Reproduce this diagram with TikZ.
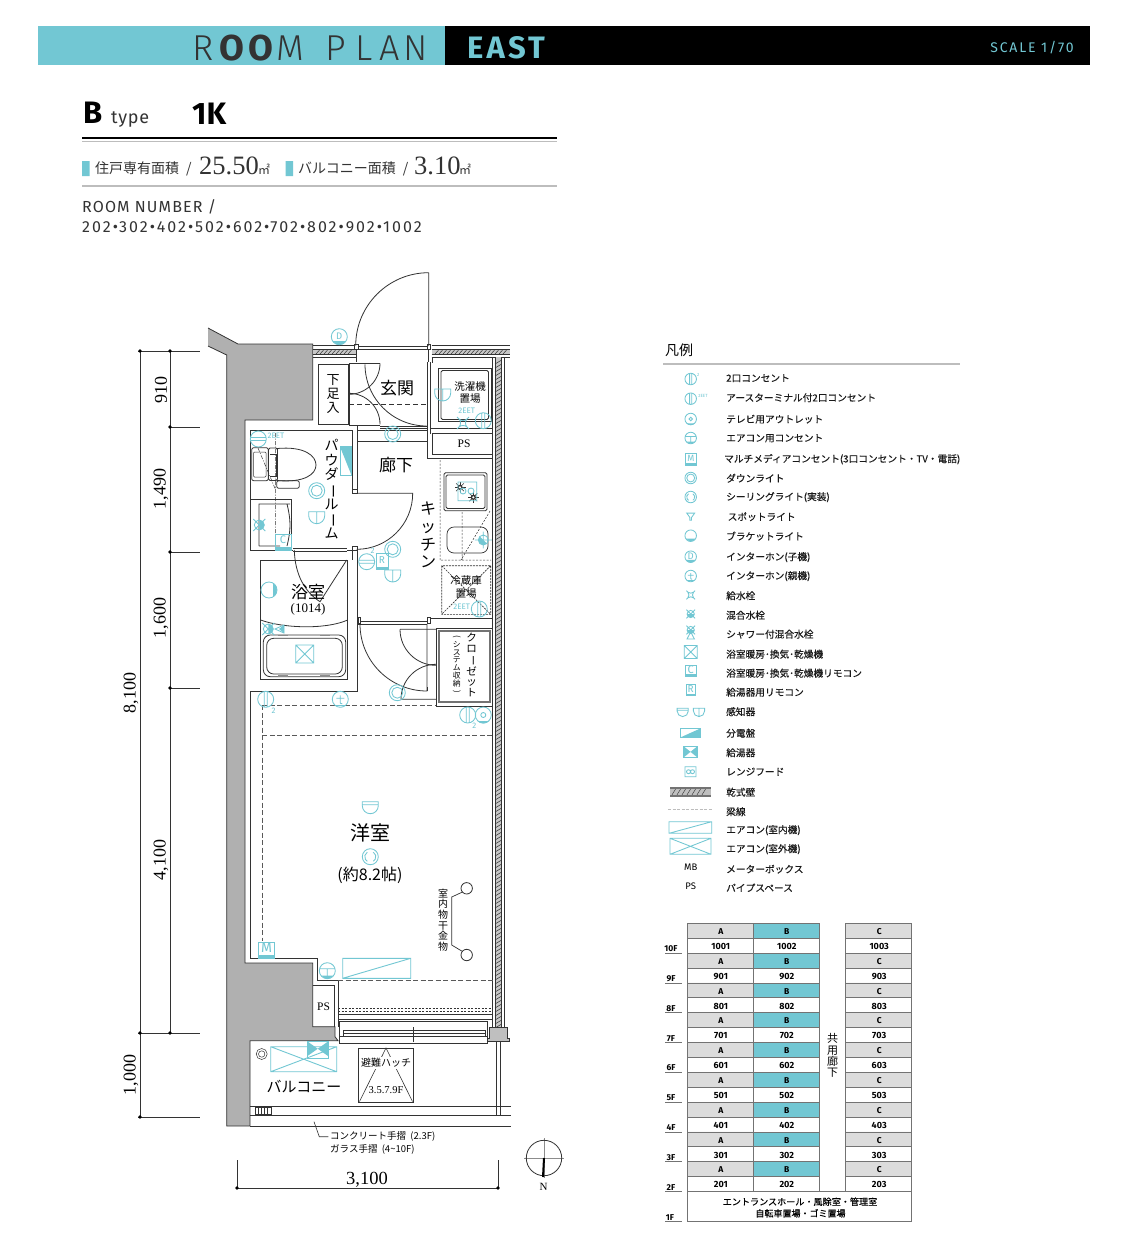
\documentclass[tikz,border=0pt]{standalone}
\usepackage{fontspec}
\usepackage{graphicx}
\setmainfont{Liberation Serif}
\newfontfamily\jp{Noto Sans CJK JP}
\newfontfamily\jpb{Noto Sans CJK JP}[FakeBold=0.25]
\newfontfamily\din{Fira Sans}
\newfontfamily\dinl{Fira Sans Light}
\definecolor{symc}{HTML}{72C7D3}
\definecolor{wallg}{HTML}{B0B0B0}
\definecolor{lineg}{HTML}{BDBDBD}
\definecolor{cellg}{HTML}{DCDCDC}
\definecolor{ink}{HTML}{333333}
\newcommand{\vb}{\rotatebox[origin=c]{-90}{ー}}
\newcommand{\jps}[1]{\jp\fontsize{#1}{#1}\selectfont}
\newcommand{\jpl}[2]{\jp\fontsize{#1}{#2}\selectfont}
\tikzset{
  sym/.style={draw=symc,line width=0.85pt},
  wl/.style={draw=ink,line width=0.8pt},
  beam/.style={draw=black!65,line width=0.7pt,dash pattern=on 5pt off 2.5pt},
  outlet/.pic={\draw[sym] (0,0) circle (8) (-1.5,-8)--(-1.5,8) (1.5,-8)--(1.5,8);},
  tvout/.pic={\draw[sym] (0,0) circle (8) (0,0) circle (2.5);\fill[symc] (-6,6) arc (135:45:8.5) -- cycle;},
  acout/.pic={\draw[sym] (0,0) circle (8) (-8,-2)--(8,-2) (0,-2)--(0,6);\fill[symc] (-6,5) -- (6,5) arc (40:140:7.8) -- cycle;},
  dlight/.pic={\draw[sym] (0,0) circle (8) (0,0) circle (5.5);},
  clight/.pic={\draw[sym] (0,0) circle (8) (-3,-4.5) arc (240:120:5.2) (3,-4.5) arc (-60:60:5.2);},
  spot/.pic={\draw[sym] (-5.5,-5)--(5.5,-5)--(1.2,1)--(1.2,5)--(-1.2,5)--(-1.2,1)--cycle;},
  bracket/.pic={\draw[sym] (0,0) circle (8);\fill[symc] (-6.8,4) arc (150:30:7.8) -- cycle;},
  intd/.pic={\draw[sym] (0,0) circle (8);\fill[symc] (-6.8,4.5) arc (146:34:8.2) -- cycle;
    \node[text=symc,font=\din\fontsize{9.5}{9.5}\selectfont,inner sep=0] (lb) at (0,-0.5) {D};},
  intt/.pic={\draw[sym] (0,0) circle (8) (-4,-1)--(4,-1) (0,-4)--(0,4) (0,4)--(2,4.5);\draw[symc,line width=1pt] (-5,6.6)--(5,6.6);},
  tapv/.pic={\draw[sym] (-4,-4) .. controls (-2,-2) and (2,-2) .. (4,-4) .. controls (2,-2) and (2,2) .. (4,4) .. controls (2,2) and (-2,2) .. (-4,4) .. controls (-2,2) and (-2,-2) .. (-4,-4) (-4,-4)--(-6,-6) (4,-4)--(6,-6) (4,4)--(6,6) (-4,4)--(-6,6);},
  mixer/.pic={\draw[sym] (-6,-6)--(6,6) (6,-6)--(-6,6) (0,0) circle (5);\fill[symc] (-5,0) arc (180:0:5) -- cycle;},
  bfan/.pic={\draw[sym] (-9,-9) rectangle (9,9) (-9,-9)--(9,9) (-9,9)--(9,-9);},
  remc/.pic={\draw[sym] (-8,-8) rectangle (8,8);\fill[symc] (-8,4.5) rectangle (8,8);
    \node[text=symc,font=\din\fontsize{11}{11}\selectfont,inner sep=0] (lb) at (0,-2) {C};},
  remr/.pic={\draw[sym] (-6,-8) rectangle (6,8);\fill[symc] (-6,5) rectangle (6,8);
    \node[text=symc,font=\din\fontsize{10}{10}\selectfont,inner sep=0] (lb) at (0,-1.5) {R};},
  senst/.pic={\draw[sym] (-8,-5) -- (8,-5) -- (8,-1) arc (0:180:8) -- cycle (-8,-2)--(8,-2);},
  sensl/.pic={\draw[sym] (-8,-5) -- (8,-5) -- (8,-1) arc (0:180:8) -- cycle (0,-5)--(0,7);},
  burner/.pic={\fill[ink] (0,0) circle (2.6);\foreach \a in {0,45,...,315} \draw[ink,line width=0.6pt] (0,0)--(\a:5.5);\fill[white] (0,0) circle (1.2);},
}
\begin{document}
\begin{tikzpicture}[x=1pt,y=-1pt,line cap=butt]
\useasboundingbox (0,0) rectangle (1120,1240);
\fill[white] (0,0) rectangle (1120,1240);
% header
\fill[symc] (38,25.5) rectangle (445,65);
\fill[black] (445,25.5) rectangle (1090,65);
\foreach \nm/\x/\t in {a/203.5/R,d/290/M,e/335.5/P,f/364/L,g/389.5/A,h/416/N}
  \node[anchor=base,inner sep=0,text=ink,font=\dinl\fontsize{36}{36}\selectfont] (ttl\nm) at (\x,60.9) {\t};
\foreach \nm/\x/\t in {b/231.5/O,c/260.5/O}
  \node[anchor=base,inner sep=0,text=ink,font=\din\bfseries\fontsize{36}{36}\selectfont] (ttl\nm) at (\x,60.9) {\t};
\node[anchor=west,inner sep=0,text=symc,font=\din\bfseries\fontsize{31}{31}\selectfont\addfontfeature{LetterSpace=10}] (east) at (467,47.5) {EAST};
\node[anchor=east,inner sep=0,text=symc,font=\din\fontsize{14}{14}\selectfont\addfontfeature{LetterSpace=13}] (scl) at (1074,47.5) {SCALE 1/70};
\node[anchor=base west,inner sep=0,font=\din\bfseries\fontsize{31}{31}\selectfont] (tb) at (83,123) {B};
\node[anchor=base west,inner sep=0,text=ink,font=\din\fontsize{18}{18}\selectfont\addfontfeature{LetterSpace=4}] (tt) at (111,123) {type};
\node[anchor=base west,inner sep=0,font=\din\bfseries\fontsize{31}{31}\selectfont] (tk) at (192,124) {1K};
\draw[black,line width=2pt] (82,137.5)--(557,137.5);
\draw[lineg,line width=1.6pt] (82,141.5)--(557,141.5);
\draw[lineg,line width=1.6pt] (82,186)--(557,186);
\fill[symc] (82,161) rectangle (89.5,176) (285.5,161) rectangle (293,176);
\node[anchor=west,inner sep=0,text=ink,font=\jps{14}] (ar1) at (95,168.5) {住戸専有面積\hspace{7pt}/};
\node[anchor=base west,inner sep=0,text=ink,font=\fontsize{26.5}{26.5}\selectfont] (ar2) at (199,174) {25.50};
\node[anchor=base west,inner sep=0,text=ink,font=\jps{12}] (ar3) at (258,174) {㎡};
\node[anchor=west,inner sep=0,text=ink,font=\jps{14}] (ar4) at (298,168.5) {バルコニー面積\hspace{7pt}/};
\node[anchor=base west,inner sep=0,text=ink,font=\fontsize{26.5}{26.5}\selectfont] (ar5) at (414,174) {3.10};
\node[anchor=base west,inner sep=0,text=ink,font=\jps{12}] (ar6) at (459,174) {㎡};
\node[anchor=west,inner sep=0,text=ink,font=\din\fontsize{16}{16}\selectfont\addfontfeature{LetterSpace=7}] (rn1) at (82,207) {ROOM NUMBER /};
\node[anchor=west,inner sep=0,text=ink,font=\din\fontsize{16}{16}\selectfont\addfontfeature{LetterSpace=12.5}] (rn2) at (82,227) {202•302•402•502•602•702•802•902•1002};
% concrete
\draw[fill=wallg,draw=ink,line width=0.8pt] (208,328)--(238,344)--(312.7,344)--(312.7,420)--(245,420)--(245,963)--(312.7,963)--(312.7,1026.7)--(335,1026.7)--(335,1036.7)--(338,1040.7)--(250,1040.7)--(250,1126)--(226.7,1126)--(226.7,355)--(208,346);
% top wall
\foreach \a/\b in {312.7/356,431.7/510}{
  \fill[black!22] (\a,349.5) rectangle (\b,354);
  \draw[wl] (\a,345.8)--(\b,345.8) (\a,349.5)--(\b,349.5) (\a,354)--(\b,354) (\a,357)--(\b,357);
}
\foreach \x in {316,320,...,351} \draw[ink,line width=0.5pt] (\x,354)--(\x+4,349.5);
\foreach \x in {435,439,...,505} \draw[ink,line width=0.5pt] (\x,354)--(\x+4,349.5);
% right wall
\fill[black!22] (495,357) rectangle (501.7,1027);
\draw[wl] (492.7,357)--(492.7,1027) (495,357)--(495,1027) (501.7,357)--(501.7,1027) (504,357)--(504,1027);
\foreach \y in {360,364,...,1024} \draw[ink,line width=0.5pt] (495,\y+4)--(501.7,\y);
% inner walls
\draw[wl] (356,346)--(356,362) (428.7,346)--(428.7,362) (432,357)--(432,363);
\draw[wl,fill=white] (354.5,344.5) rectangle (358,349) (427,344.5) rectangle (430.5,349);
\draw[wl] (358,346)--(427,346) (358,349.5)--(427,349.5);
\draw[wl,fill=white] (318,364) rectangle (348,424);
\draw[wl] (349,363.3)--(380,363.3) (349,425)--(380,425) (349,363.3)--(349,425) (357.5,425)--(357.5,491) (352.7,430.7)--(352.7,491);
\draw[wl] (349,363.3)--(356,363.3);
\draw[wl] (380,426)--(427,426) (380,428.5)--(427,428.5) (357.5,430)--(427,430) (357.5,441)--(427,441);
\draw[wl] (427,362)--(427,458.8)--(492,458.8) (430,362)--(430,433.5);
\draw[wl] (430,428)--(492.7,428);
\draw[wl] (432.3,433.3) rectangle (492.7,454.3);
\draw[wl] (438.3,368) rectangle (491,421.7);
\draw[wl,rounded corners=1.5pt] (441,370.5) rectangle (488.5,419.5);
\draw[wl] (349,404)--(426,404) [dash pattern=on 5pt off 3pt];
\draw[wl] (250,430.7)--(352.7,430.7) (250,430.7)--(250,550.7)--(293,550.7) (347,550.7)--(352.7,550.7) (357.5,548)--(357.5,691.7) (352.7,548)--(352.7,560);
\draw[wl] (293,548)--(347,548) (293,551.5)--(347,551.5);
\draw[wl,fill=white] (352,489.5) rectangle (357,493.3) (352,546) rectangle (357,550);
\draw[wl] (250,691)--(357.5,691) (250,691)--(250,958)--(317,958)--(317,980)--(338,980);
\draw[wl] (338,980)--(338,1020);
\draw[wl] (312.7,985)--(334,985)--(334,1026.7);
% door arcs
\draw[wl] (428.7,272.7)--(428.7,346) (428.7,272.7) arc (270:180:73);
\draw[wl] (380,363.3) arc (0:90:31);
\draw[wl] (349,393.3) arc (270:360:31);
\draw[wl] (365,364.3) arc (180:90:61.7);
\draw[wl] (356.7,493.3)--(412.7,493.3) arc (0:90:56);
\draw[wl] (360,624) arc (180:90:67)--(427,624);
\draw[wl] (358,621)--(427,621) (358,624)--(427,624);
\draw[wl,fill=white] (358,617) rectangle (360.5,623) (427.5,617) rectangle (430,623);
\draw[wl] (430,618.3)--(492.7,618.3);
\draw[wl] (427,687)--(427,691);
\draw[wl] (400,629.3)--(436,629.3) (400,629.3) arc (180:90:36);
\draw[wl] (436,664.3) arc (270:180:35) -- (436,699.3);
% closet
\draw[wl,fill=white] (436,628.3) rectangle (492.7,706);
\draw[black!55,line width=1.8pt] (439,631) rectangle (490,702);
% kitchen
\draw[wl,rounded corners=1.5pt] (444,472.7) rectangle (487,510.7);
\draw[wl,rounded corners=1.5pt] (446,475) rectangle (485,508.5);
\draw[ink,line width=0.5pt,dash pattern=on 2pt off 1.5pt] (440,460)--(440,560) (441,560)--(491,560) (462,512)--(462,560) (490,511)--(461,560);
\draw[ink,line width=0.7pt,rounded corners=7pt] (447,527) rectangle (488,553);
\draw[wl] (260.7,560)--(260.7,679)--(347.7,679)--(347.7,560)--cycle;
\draw[ink,line width=0.6pt,dash pattern=on 2pt off 1pt] (441.7,565.7) rectangle (490.7,614.3) (441.7,565.7)--(490.7,614.3) (490.7,565.7)--(441.7,614.3);
% toilet
\draw[wl,rounded corners=2pt] (251.7,447.7) rectangle (268.3,480.7);
\draw[ink,line width=0.5pt,rounded corners=1pt] (253.5,452) rectangle (266,477);
\draw[wl,rounded corners=1.5pt] (268.5,448) rectangle (277.5,480.5);
\draw[wl] (277,448.5) .. controls (305,446) and (316,456) .. (316,465) .. controls (316,474) and (305,483) .. (277,480.5);
\draw[wl] (270,454)--(276,454)--(276,476)--(270,476);
\draw[wl,rounded corners=2pt] (276.7,480.7) rectangle (299.3,488.3);
\draw[ink,line width=0.5pt,dash pattern=on 4pt off 1.5pt on 1pt off 1.5pt] (275.7,433)--(275.7,550) (258,448)--(275.7,490);
% vanity
\draw[wl] (250,499.3)--(291.7,499.3)--(291.7,550);
\draw[wl] (259,546)--(259,504)--(290,504) (280,546)--(259,546) (287,504) .. controls (291,520) and (291,530) .. (287,546);
% bath
\draw[wl] (294.3,550) .. controls (295,575) and (305,592) .. (320,601.7)--(346.7,560);
\draw[wl] (260.7,620) .. controls (282,628) and (325,630) .. (347.7,620);
\draw[wl,rounded corners=7pt] (263.3,635) rectangle (345.7,676.7);
\draw[wl,rounded corners=7pt] (266.7,638.3) rectangle (342.3,674);
\draw[black!45,line width=1.5pt] (278,635.5)--(288,635.5) (320,635.5)--(330,635.5) (278,676)--(288,676) (320,676)--(330,676);
% beam lines
\draw[beam] (262.3,705)--(262.3,941) (262.3,705)--(436,705) (262.3,735)--(492.7,735) (338,980)--(492.7,980);
% sash
\draw[wl] (338,1020)--(338,1027) ;
\draw[ink,line width=0.5pt,dash pattern=on 2pt off 1.5pt] (338,1008)--(492,1008) (338,1011)--(492,1011);
\draw[wl] (338,1014.5)--(492,1014.5) (338,1019)--(492,1019);
\draw[wl] (339,1021)--(487,1021) (343,1030)--(485,1030) (343,1033)--(485,1033);
\draw[wl,fill=white] (339,1036.5) rectangle (487,1043);
\draw[wl] (339,1021)--(339,1036.5) (487,1021)--(487,1036.5) (343,1030)--(343,1036) (485,1030)--(485,1036);
\draw[wl] (413,1027)--(413,1042);
\draw[wl,fill=black!25] (489,1027)--(507,1027)--(507,1038)--(509,1038)--(509,1041)--(487,1041)--(487,1038)--(489,1038)--cycle;
% balcony
\draw[wl] (250,1106)--(511,1106) (250,1115)--(511,1115) (250,1126)--(511,1126);
\draw[wl] (496,1041)--(496,1115) (500.5,1041)--(500.5,1115);
\draw[wl] (255,1107) rectangle (271,1114.5);
\foreach \x in {258,261,264,267} \draw[ink,line width=0.5pt] (\x,1107)--(\x,1114.5);
\draw[ink,line width=0.5pt] (261.7,1054) circle (5.5) (261.7,1054) circle (3.2);
\draw[ink,line width=0.6pt,fill=white] (358,1048) rectangle (413,1102);
\draw[ink,line width=0.6pt] (359.5,1101.5)--(386,1048)--(412.5,1101.5);
\draw[ink,line width=0.6pt] (314,1121.7)--(319.3,1136.7)--(328.3,1136.7);
% symbols in plan
\pic at (339.3,336.7) {intd};
\pic at (442.7,394) {sensl};
\pic at (463,423) {tapv};
\pic at (483.3,420.7) {outlet};
\pic at (392.7,434) {dlight};
\pic[rotate=90] at (258.3,439) {outlet};
\pic at (316.7,490.7) {dlight};
\pic at (316.7,516.7) {sensl};
\pic[rotate=90] at (259.3,525) {mixer};
\pic at (283,542) {remc};
\pic[rotate=90] at (366.7,561.7) {outlet};
\pic at (382,561.5) {remr};
\pic at (392.7,549.3) {dlight};
\pic at (392.7,575) {sensl};
\pic[rotate=90] at (269,590) {bracket};
\pic[rotate=90] at (268.3,629) {mixer};
\pic at (304.7,654) {bfan};
\pic at (265.7,699.3) {outlet};
\pic at (340.3,699.3) {intt};
\pic at (397.3,692.7) {dlight};
\pic at (467.7,715) {outlet};
\pic at (483.3,715) {tvout};
\pic at (370.3,806.7) {senst};
\pic at (370.3,856.7) {clight};
\pic at (327.3,970.7) {acout};
\pic at (479.3,609) {outlet};
\pic[rotate=-45] at (483.3,540) {mixer};
\pic at (460,487.3) {burner};
\pic at (473.3,497.3) {burner};
\draw[sym] (458,482) rectangle (476.7,500.7) (463,491) circle (3) (471,491) circle (3);
\fill[symc] (279,629) -- (284,625) -- (284,633) -- cycle;
\draw[sym] (275,629) -- (284,625) -- (284,633) -- cycle;
\draw[sym] (340,446.7) rectangle (351.7,475.7);
\fill[symc] (340,446.7)--(351.7,446.7)--(351.7,475.7)--cycle;
\draw[sym] (258.3,942.3) rectangle (274.7,958.3);
\fill[symc] (258.3,955) rectangle (274.7,958.3);
\node[text=symc,inner sep=0,font=\din\fontsize{14}{14}\selectfont] (lbm) at (266.5,948) {M};
\draw[sym,line width=0.9pt] (342.7,958.3) rectangle (410.7,978.3) (342.7,978.3)--(410.7,958.3);
\draw[sym,line width=0.9pt] (270.7,1046.7) rectangle (336.7,1071.7) (270.7,1046.7)--(336.7,1071.7) (270.7,1071.7)--(336.7,1046.7);
\fill[symc] (307.5,1041.5)--(328,1056)--(328,1041.5)--(307.5,1056)--cycle;
\draw[sym] (307.5,1041.5) rectangle (328,1058);
% labels in plan
\foreach \nm/\x/\y/\s/\t in {a/466.7/410.7/8/2EET,b/276/435.7/8/2EET,c/372.5/551/8/2,d/273.7/710.7/8/2,e/474.3/726/8/2,f/461.7/606.7/8/2EET}
  \node[text=symc,inner sep=0,font=\din\fontsize{\s}{\s}\selectfont] (s\nm) at (\x,\y) {\t};
\node[inner sep=0,font=\jps{17}] (lbgen) at (397,388) {玄関};
\node[inner sep=0,font=\jps{17}] (lbrou) at (396,465.5) {廊下};
\node[inner sep=0,align=center,font=\jpl{13}{14}] (lbget) at (333,394) {下\\足\\入};
\node[inner sep=0,align=center,font=\jpl{10.5}{12}] (lbsen) at (470,393) {洗濯機\\置場};
\node[inner sep=0,font=\fontsize{11.5}{11.5}\selectfont] (lbps) at (464,444) {PS};
\node[inner sep=0,align=center,font=\jpl{14}{14.7}] (lbpow) at (331.7,489) {パ\\ウ\\ダ\\\vb\\ル\\\vb\\ム};
\node[inner sep=0,align=center,font=\jpl{16}{17.7}] (lbkit) at (428,535) {キ\\ッ\\チ\\ン};
\node[inner sep=0,font=\jps{17}] (lbyok) at (308,592) {浴室};
\node[inner sep=0,font=\fontsize{13}{13}\selectfont] (lbsz) at (308,609) {(1014)};
\node[inner sep=0,align=center,font=\jpl{10.5}{13}] (lbrei) at (466,586.7) {冷蔵庫\\置場};
\node[inner sep=0,align=center,font=\jpl{10.5}{10.5}] (lbcl) at (471.7,665) {ク\\ロ\\\vb\\ゼ\\ッ\\ト};
\node[inner sep=0,align=center,font=\jpl{7.8}{7.8}] (lbsys) at (456.7,665) {\rotatebox[origin=c]{-90}{(}\\シ\\ス\\テ\\ム\\収\\納\\\rotatebox[origin=c]{-90}{)}};
\node[inner sep=0,font=\jps{20}] (lbyo) at (370,833) {洋室};
\node[inner sep=0,font=\jps{16}] (lbjo) at (370,875.5) {(約8.2帖)};
\node[inner sep=0,align=center,font=\jpl{10}{10.7}] (lbmh) at (443,920) {室\\内\\物\\干\\金\\物};
\draw[ink,line width=0.8pt,fill=white] (466.7,888.3) circle (5.7) (466.7,955) circle (5.7);
\draw[ink,line width=0.7pt] (462.5,892)--(451.7,897)--(451.7,945)--(462.5,951.5);
\node[inner sep=0,font=\jps{15}] (lbbal) at (304,1087) {バルコニー};
\node[inner sep=1pt,fill=white,font=\jps{10}] (lbhat) at (386,1063) {避難ハッチ};
\node[inner sep=1pt,fill=white,font=\fontsize{10.5}{10.5}\selectfont] (lbhf) at (386,1090) {3.5.7.9F};
\node[inner sep=0,font=\fontsize{11.5}{11.5}\selectfont] (lbps2) at (323.5,1006.5) {PS};
\node[anchor=west,inner sep=0,font=\jps{9.5}] (nt1) at (330,1136.5) {コンクリート手摺\ \ (2.3F)};
\node[anchor=west,inner sep=0,font=\jps{9.5}] (nt2) at (330,1149) {ガラス手摺\ \ (4\textasciitilde 10F)};
% dimensions
\draw[ink,line width=0.6pt] (140,351)--(140,1117) (170,351)--(170,1033);
\draw[ink,line width=0.6pt] (138,351)--(200,351) (170,427)--(200,427) (170,552)--(200,552) (170,688)--(200,688) (138,1033)--(200,1033) (138,1117)--(200,1117);
\foreach \y in {351,427,552,688,1033} \fill[black] (170,\y) circle (1.8);
\foreach \y in {351,1033,1117} \fill[black] (140,\y) circle (1.8);
\foreach \nm/\x/\y/\t in {a/161/390/910,b/161/489/{1,490},c/161/618/{1,600},d/161/860/{4,100},e/131/693/{8,100},f/131/1075/{1,000}}
  \node[rotate=90,inner sep=0,font=\fontsize{18}{18}\selectfont] (dim\nm) at (\x,\y) {\t};
\draw[ink,line width=0.6pt] (237,1160)--(237,1188)--(498,1188)--(498,1160);
\fill[black] (237,1188) circle (1.8) (498,1188) circle (1.8);
\node[inner sep=0,font=\fontsize{18.5}{18.5}\selectfont] (dimw) at (367,1179.5) {3,100};
% north
\draw[black!45,line width=0.4pt] (524,1158)--(564,1158) (544,1138)--(544,1178);
\draw[ink,line width=0.8pt] (544,1158) circle (17.7);
\draw[black,line width=2pt] (544,1158)--(543,1177);
\node[inner sep=0,font=\fontsize{11}{11}\selectfont] (lbn) at (543.5,1186.5) {N};
% legend
\node[anchor=west,inner sep=0,font=\jps{14}] (lgt) at (665,350) {凡例};
\draw[lineg,line width=1.2pt] (663,364)--(960,364);
\foreach \x/\y/\t in {726/378/2口コンセント,726/397.5/アースターミナル付2口コンセント,726/419/テレビ用アウトレット,726/438/エアコン用コンセント,724/459/マルチメディアコンセント(3口コンセント・TV・電話),726/478/ダウンライト,726/497/シーリングライト(実装),727.5/516.5/スポットライト,726/536/ブラケットライト,726/557/インターホン(子機),726/576/インターホン(親機),726/595.5/給水栓,726/615/混合水栓,726/634/シャワー付混合水栓,726/654/浴室暖房･換気･乾燥機,726/673/浴室暖房･換気･乾燥機リモコン,726/692/給湯器用リモコン,726/711.5/感知器,726/733/分電盤,726/752.5/給湯器,726/771.5/レンジフード,726/792/乾式壁,726/811.5/梁線,726/830/エアコン(室内機),726/849/エアコン(室外機),726/869/メーターボックス,726/887.5/パイプスペース}
  \node[anchor=west,inner sep=0,yshift=-0.2pt,text=black!90,font=\jpb\fontsize{9.7}{9.7}\selectfont] (lg\y) at (\x,\y) {\t};
\foreach \s/\y/\k in {outlet/379/{},outlet/398.7/{},tvout/419/{},acout/438/{},dlight/478/{},clight/497/{},spot/516.7/{},bracket/535.7/{},intd/556.7/{},intt/576/{},tapv/595/{},mixer/614/{},bfan/652/{},remc/671/{},remr/690/{}}
  \pic[scale=0.72] at (690.7,\y) {\s};
\pic[scale=0.72] at (690.7,630) {mixer};
\draw[sym] (687,639) -- (690.7,632) -- (694.4,639) -- cycle;
\pic[scale=0.7] at (682.7,711.7) {senst};
\pic[scale=0.7] at (699,711.7) {sensl};
\draw[sym] (685,453.3) rectangle (696.7,465);
\fill[symc] (685,462.5) rectangle (696.7,465);
\node[text=symc,inner sep=0,font=\din\fontsize{9}{9}\selectfont] (lgm) at (690.8,458) {M};
\node[text=symc,inner sep=0,font=\din\fontsize{4.5}{4.5}\selectfont] (lga) at (698.3,374.5) {2};
\node[text=symc,inner sep=0,font=\din\fontsize{4.5}{4.5}\selectfont] (lgb) at (703,396) {2EET};
\draw[sym] (680.7,728.3) rectangle (700.7,737.3);
\fill[symc] (680.7,737.3)--(700.7,728.3)--(700.7,737.3)--cycle;
\fill[symc] (683.3,746)--(697.7,757.7)--(697.7,746)--(683.3,757.7)--cycle;
\draw[sym] (683.3,746) rectangle (697.7,757.7);
\draw[sym] (685,766.7) rectangle (696,776.7) (688.5,771.7) circle (2) (692.5,771.7) circle (2);
\fill[black!55] (670,787.3) rectangle (710.7,796.7);
\fill[black!25] (670,789.2) rectangle (710.7,794.8);
\foreach \x in {672,677,...,705} \draw[ink,line width=0.4pt] (\x,794.8)--(\x+3.5,789.2);
\draw[lineg,line width=0.9pt,dash pattern=on 3pt off 1.5pt] (668,809)--(712.7,809);
\draw[sym] (669,821.7) rectangle (711.7,833.3) (669,833.3)--(711.7,821.7);
\draw[sym] (670,838.3) rectangle (711,854.3) (670,838.3)--(711,854.3) (670,854.3)--(711,838.3);
\node[inner sep=0,font=\din\fontsize{9.5}{9.5}\selectfont] (lgmb) at (690.7,867.5) {MB};
\node[inner sep=0,font=\din\fontsize{9.5}{9.5}\selectfont] (lgps) at (690.7,886) {PS};
% floors table
\foreach \f [count=\i from 0] in {10,9,8,7,6,5,4,3,2}{
  \pgfmathsetmacro{\ya}{923.3+\i*29.8}
  \pgfmathsetmacro{\yb}{\ya+14.9}
  \pgfmathsetmacro{\yc}{\ya+29.8}
  \fill[cellg] (687.3,\ya) rectangle (753.3,\yb) (845.7,\ya) rectangle (911.7,\yb);
  \fill[symc] (753.3,\ya) rectangle (819.3,\yb);
  \node[inner sep=0,font=\din\bfseries\fontsize{8.5}{8.5}\selectfont] (ca\f) at (720.8,\ya+8.2) {A};
  \node[inner sep=0,font=\din\bfseries\fontsize{8.5}{8.5}\selectfont] (cb\f) at (786.8,\ya+8.2) {B};
  \node[inner sep=0,font=\din\bfseries\fontsize{8.5}{8.5}\selectfont] (cc\f) at (879.2,\ya+8.2) {C};
  \node[inner sep=0,font=\din\bfseries\fontsize{9}{9}\selectfont] (na\f) at (720.8,\yb+8.2) {\f01};
  \node[inner sep=0,font=\din\bfseries\fontsize{9}{9}\selectfont] (nb\f) at (786.8,\yb+8.2) {\f02};
  \node[inner sep=0,font=\din\bfseries\fontsize{9}{9}\selectfont] (nc\f) at (879.2,\yb+8.2) {\f03};
  \draw[black!55,line width=0.7pt] (687.3,\ya)--(819.3,\ya) (845.7,\ya)--(911.7,\ya) (687.3,\yb)--(819.3,\yb) (845.7,\yb)--(911.7,\yb);
  \draw[black!55,line width=0.7pt] (665,\yc)--(682,\yc);
  \node[inner sep=0,font=\din\bfseries\fontsize{8.5}{8.5}\selectfont] (fl\f) at (671,\yc-4.3) {\f F};
}
\draw[black!55,line width=0.8pt] (687.3,923.3)--(687.3,1221.7)--(911.7,1221.7)--(911.7,923.3) (753.3,923.3)--(753.3,1191.5) (819.3,923.3)--(819.3,1191.5) (845.7,923.3)--(845.7,1191.5) (687.3,1191.5)--(911.7,1191.5);
\draw[black!55,line width=0.7pt] (665,1221.7)--(682,1221.7);
\node[inner sep=0,font=\din\bfseries\fontsize{8.5}{8.5}\selectfont] (fl1) at (670,1217.5) {1F};
\node[inner sep=0,align=center,font=\jpl{11}{11.3}] (cor) at (832.5,1055.5) {共\\用\\廊\\下};
\node[inner sep=0,font=\jpb\fontsize{9.1}{9.1}\selectfont] (ent1) at (800,1201.7) {エントランスホール・風除室・管理室};
\node[inner sep=0,font=\jpb\fontsize{9}{9}\selectfont] (ent2) at (800.5,1213.3) {自転車置場・ゴミ置場};
\end{tikzpicture}
\end{document}
